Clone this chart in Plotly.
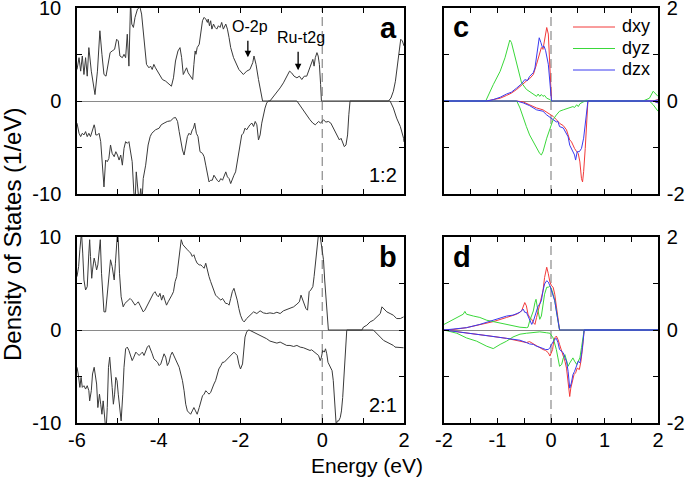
import plotly.graph_objects as go

# ---------------- data ----------------
# Panel a (1:2), total DOS, spin up / spin down
a_up_E = [-6.00,-5.95,-5.91,-5.87,-5.83,-5.79,-5.75,-5.71,-5.65,-5.60,-5.56,-5.50,-5.44,-5.39,-5.34,-5.29,-5.24,-5.19,-5.14,-5.08,
          -5.03,-4.99,-4.95,-4.89,-4.85,-4.81,-4.77,-4.73,-4.69,-4.66,-4.62,-4.58,-4.52,-4.46,-4.42,-4.38,-4.34,-4.30,-4.24,-4.20,
          -4.16,-4.12,-4.08,-4.03,-3.98,-3.91,-3.83,-3.75,-3.69,-3.64,-3.59,-3.53,-3.48,-3.44,-3.40,-3.36,-3.32,-3.28,-3.22,-3.17,
          -3.14,-3.11,-3.09,-3.06,-3.01,-2.97,-2.93,-2.89,-2.85,-2.81,-2.79,-2.76,-2.73,-2.70,-2.66,-2.62,-2.58,-2.54,-2.50,-2.46,
          -2.42,-2.36,-2.32,-2.28,-2.24,-2.17,-2.09,-2.04,-1.93,-1.85,-1.77,-1.70,-1.67,-1.62,-1.56,-1.50,-1.46,-1.28,-1.19,-1.11,
          -1.03,-0.95,-0.87,-0.80,-0.75,-0.69,-0.62,-0.56,-0.50,-0.44,-0.38,-0.31,-0.27,-0.23,-0.20,-0.17,-0.13,-0.10,-0.07,-0.05,
          -0.04,-0.02,1.62,1.68,1.74,1.79,1.84,1.88,1.92,1.96,2.00]
a_up = [3.39,4.66,3.21,4.84,2.85,4.66,2.67,5.74,3.21,1.77,0.69,3.21,7.55,5.02,2.85,2.67,3.94,5.20,5.38,5.56,
        6.64,6.46,4.84,4.66,5.02,4.66,7.18,3.75,10.6,8.27,7.91,8.99,9.89,10.1,9.35,7.55,5.02,3.94,3.57,3.75,
        3.39,3.94,3.57,3.21,2.85,2.31,2.13,1.77,1.59,2.49,4.30,5.38,5.74,4.66,2.85,3.21,3.57,3.03,2.67,2.31,
        3.94,5.38,5.02,5.74,6.10,7.18,8.63,8.99,8.81,8.45,8.81,8.09,8.63,7.73,8.27,7.91,7.73,8.09,7.91,8.45,
        7.73,8.27,7.73,6.82,5.74,4.66,3.94,3.39,2.85,3.21,3.39,4.12,4.84,3.94,2.31,1.05,0.00,0.00,0.51,0.87,
        1.41,1.95,2.67,3.21,3.03,2.67,2.49,2.67,2.31,2.67,2.67,3.57,4.12,4.48,3.75,4.66,5.20,4.84,3.94,2.85,
        1.77,0.00,0.00,0.32,1.05,2.13,3.94,5.74,6.64,6.46,5.92]

a_dn_E = [-6.00,-5.95,-5.91,-5.87,-5.83,-5.79,-5.75,-5.71,-5.67,-5.62,-5.58,-5.56,-5.54,-5.50,-5.46,-5.42,-5.38,-5.34,-5.30,-5.26,
          -5.22,-5.18,-5.14,-5.09,-5.05,-5.01,-4.97,-4.93,-4.89,-4.85,-4.81,-4.77,-4.73,-4.69,-4.65,-4.61,-4.58,-4.55,-4.52,-4.48,
          -4.44,-4.41,-4.38,-4.32,-4.26,-4.21,-4.17,-4.13,-4.08,-3.99,-3.94,-3.87,-3.79,-3.71,-3.64,-3.59,-3.54,-3.50,-3.46,-3.42,
          -3.38,-3.34,-3.30,-3.26,-3.22,-3.18,-3.15,-3.12,-3.08,-3.04,-2.99,-2.93,-2.89,-2.85,-2.81,-2.77,-2.73,-2.69,-2.65,-2.61,
          -2.57,-2.53,-2.48,-2.44,-2.40,-2.36,-2.32,-2.28,-2.24,-2.20,-2.16,-2.12,-2.08,-2.04,-2.00,-1.97,-1.93,-1.89,-1.85,-1.81,
          -1.77,-1.72,-1.68,-1.64,-1.60,-1.56,-1.52,-1.48,-1.44,-1.40,-1.36,-1.32,-0.62,-0.56,-0.46,-0.38,-0.30,-0.23,-0.17,-0.13,
          -0.09,-0.04,0.03,0.09,0.15,0.21,0.27,0.34,0.39,0.42,0.46,0.50,0.54,0.58,0.62,0.65,0.68,1.66,1.74,1.82,1.91,1.99,2.00]
a_dn = [-2.38,-3.47,-3.83,-3.47,-3.65,-3.29,-3.83,-3.47,-3.83,-3.10,-2.56,-2.92,-3.65,-3.65,-3.47,-4.37,-6.71,-9.24,-6.35,-6.53,
        -6.17,-4.73,-5.63,-5.99,-5.45,-5.81,-6.35,-5.81,-6.90,-5.09,-4.37,-4.55,-4.37,-5.27,-6.53,-9.78,-11.0,-7.62,-9.78,-11.0,
        -9.42,-10.9,-8.34,-6.90,-4.73,-3.83,-3.47,-3.29,-3.10,-2.92,-2.56,-2.38,-2.20,-2.13,-1.84,-1.77,-2.20,-3.29,-4.37,-5.27,
        -5.81,-4.91,-3.83,-3.47,-3.65,-3.10,-2.92,-2.38,-3.47,-3.83,-5.45,-5.63,-5.99,-6.90,-7.98,-8.70,-8.52,-8.52,-7.98,-8.34,
        -8.52,-8.70,-8.34,-8.52,-7.98,-7.62,-8.16,-8.34,-8.88,-8.34,-7.98,-7.62,-6.53,-5.45,-4.73,-3.65,-3.47,-2.92,-3.10,-2.74,
        -2.56,-2.38,-2.74,-2.20,-2.56,-4.19,-3.65,-2.38,-1.48,-0.76,-0.22,0.00,0.00,-0.40,-0.94,-1.48,-2.02,-2.38,-2.56,-2.38,
        -2.20,-2.38,-2.02,-2.27,-2.20,-2.38,-2.92,-3.47,-3.83,-4.19,-4.01,-4.37,-4.91,-4.73,-3.65,-1.48,0.00,0.00,-0.76,-1.84,-2.74,-4.01,-4.40]

# Panel b (2:1)
b_up_E = [-6.00,-5.96,-5.93,-5.89,-5.86,-5.83,-5.79,-5.75,-5.71,-5.69,-5.67,-5.64,-5.62,-5.58,-5.55,-5.52,-5.49,-5.45,-5.43,-5.40,
          -5.37,-5.34,-5.30,-5.26,-5.22,-5.18,-5.14,-5.09,-5.06,-5.04,-5.01,-4.99,-4.96,-4.92,-4.87,-4.83,-4.78,-4.74,-4.70,-4.66,
          -4.62,-4.58,-4.54,-4.50,-4.46,-4.42,-4.38,-4.34,-4.30,-4.24,-4.18,-4.13,-4.09,-4.05,-4.01,-3.97,-3.93,-3.89,-3.85,-3.81,
          -3.77,-3.72,-3.68,-3.64,-3.60,-3.56,-3.52,-3.48,-3.45,-3.41,-3.38,-3.34,-3.30,-3.26,-3.22,-3.18,-3.14,-3.10,-3.06,-3.01,
          -2.97,-2.93,-2.89,-2.85,-2.81,-2.77,-2.73,-2.69,-2.65,-2.61,-2.57,-2.53,-2.48,-2.44,-2.40,-2.36,-2.32,-2.28,-2.24,-2.20,
          -2.16,-2.12,-2.08,-2.04,-2.00,-1.95,-1.91,-1.85,-1.77,-1.68,-1.60,-1.52,-1.44,-1.36,-1.28,-1.19,-1.11,-1.03,-0.95,-0.87,
          -0.79,-0.70,-0.62,-0.56,-0.52,-0.48,-0.44,-0.40,-0.36,-0.32,-0.28,-0.23,-0.20,-0.17,-0.13,-0.11,-0.08,-0.05,-0.01,0.03,
          0.06,0.09,0.13,0.15,0.97,1.01,1.09,1.17,1.25,1.33,1.42,1.46,1.50,1.58,1.66,1.74,1.82,1.91,1.99]
b_up = [5.74,6.82,8.63,10.5,8.27,5.38,4.30,4.66,8.27,9.71,7.91,5.56,6.46,7.73,7.18,6.46,7.00,8.63,9.71,6.10,
        3.21,1.95,1.95,3.94,6.10,7.55,6.82,5.38,7.18,9.35,10.5,9.71,6.10,3.57,2.49,2.85,3.03,3.21,3.39,3.21,
        2.85,2.67,2.85,3.03,2.67,2.31,1.95,2.13,2.49,2.85,3.39,3.94,4.12,3.75,3.57,3.94,3.21,3.75,3.21,2.67,
        3.03,3.39,3.75,4.12,5.20,5.74,7.18,8.81,9.71,9.17,8.99,8.81,8.63,8.45,8.27,7.91,8.09,7.55,7.18,7.00,
        7.00,6.82,6.64,7.18,6.28,5.74,5.20,4.66,4.12,3.75,3.57,3.39,3.21,3.39,3.03,2.85,2.85,2.67,3.39,4.12,
        4.48,3.94,3.21,2.31,1.59,1.05,0.87,1.23,1.59,1.95,1.77,2.06,1.84,1.77,1.84,1.77,1.91,1.77,2.06,2.20,
        2.31,2.49,2.78,3.03,3.75,3.21,2.67,2.31,2.13,4.12,4.30,4.66,5.74,7.18,8.99,10.07,10.8,10.07,8.99,7.55,
        5.38,3.21,1.05,0.00,0.00,0.32,0.51,0.87,1.05,1.41,1.77,2.49,2.31,1.95,1.77,1.59,1.23,1.23,1.41]

b_dn_E = [-6.00,-5.97,-5.93,-5.90,-5.87,-5.83,-5.79,-5.75,-5.71,-5.69,-5.65,-5.62,-5.58,-5.55,-5.52,-5.49,-5.45,-5.42,-5.39,-5.36,
          -5.32,-5.29,-5.26,-5.23,-5.20,-5.18,-5.14,-5.11,-5.08,-5.05,-5.02,-4.99,-4.95,-4.92,-4.88,-4.85,-4.81,-4.77,-4.73,-4.69,
          -4.65,-4.61,-4.56,-4.52,-4.48,-4.44,-4.40,-4.36,-4.32,-4.28,-4.24,-4.20,-4.16,-4.12,-4.08,-4.03,-3.99,-3.95,-3.91,-3.87,
          -3.83,-3.79,-3.75,-3.71,-3.67,-3.63,-3.59,-3.54,-3.50,-3.46,-3.42,-3.38,-3.34,-3.30,-3.26,-3.22,-3.18,-3.14,-3.10,-3.06,
          -3.01,-2.97,-2.93,-2.89,-2.85,-2.81,-2.77,-2.73,-2.69,-2.65,-2.61,-2.57,-2.53,-2.48,-2.44,-2.40,-2.36,-2.32,-2.28,-2.24,
          -2.20,-2.16,-2.12,-2.08,-2.04,-2.00,-1.95,-1.91,-1.89,-1.85,-1.81,-1.77,-1.68,-1.60,-1.52,-1.44,-1.36,-1.28,-1.19,-1.11,
          -1.03,-0.95,-0.87,-0.79,-0.70,-0.62,-0.54,-0.46,-0.38,-0.30,-0.26,-0.22,-0.13,-0.09,-0.05,-0.02,0.01,0.05,0.08,0.11,
          0.14,0.18,0.21,0.24,0.27,0.31,0.34,0.37,0.40,0.44,0.47,0.50,0.53,0.57,0.60,1.25,1.33,1.42,1.50,1.58,
          1.66,1.74,1.78,1.82,1.91,1.99]
b_dn = [-4.01,-4.73,-6.17,-5.09,-6.17,-5.99,-6.35,-5.99,-6.53,-7.62,-6.53,-4.73,-4.01,-4.73,-5.81,-8.34,-6.90,-7.98,-9.06,-7.62,
        -9.78,-11.0,-8.34,-4.01,-2.92,-4.37,-6.17,-7.98,-6.90,-5.09,-5.45,-6.90,-8.34,-9.78,-6.90,-4.01,-2.02,-1.84,-2.20,-2.74,
        -3.29,-2.92,-2.38,-2.56,-2.74,-2.56,-2.38,-2.74,-2.20,-1.84,-1.66,-2.02,-2.56,-3.10,-3.29,-3.47,-3.83,-3.65,-3.10,-2.56,
        -2.92,-3.83,-3.47,-2.74,-2.38,-2.74,-3.10,-3.47,-4.01,-4.73,-5.45,-6.53,-7.98,-8.70,-8.88,-9.06,-8.70,-8.34,-8.70,-9.06,
        -8.34,-7.62,-7.08,-6.90,-6.53,-6.71,-6.90,-6.71,-6.17,-5.81,-5.45,-4.73,-4.19,-3.83,-3.47,-3.47,-3.29,-3.10,-3.00,-2.74,
        -2.56,-2.38,-2.56,-2.74,-3.65,-4.19,-3.65,-2.02,-0.76,-0.22,0.00,-0.04,-0.22,-0.40,-0.58,-0.76,-0.94,-1.19,-1.30,-1.41,
        -1.30,-1.48,-1.66,-1.66,-1.77,-1.66,-1.84,-1.91,-2.02,-2.20,-2.13,-2.27,-2.56,-2.74,-3.29,-2.92,-2.20,-2.38,-2.02,-2.56,
        -3.47,-3.83,-4.01,-4.37,-5.45,-8.34,-10.14,-9.78,-9.78,-9.42,-8.70,-7.26,-4.73,-2.20,0.00,0.00,-0.40,-0.76,-1.12,-1.30,
        -1.48,-1.66,-1.84,-1.84,-1.84,-1.91]

# Panel c (1:2) Ru t2g projected DOS
c_series = ["dxy", "dyz", "dzx"]
c_up_E = {
    "dxy": [-2.00,-1.20,-1.08,-0.95,-0.83,-0.74,-0.64,-0.55,-0.46,-0.40,-0.33,-0.27,-0.21,-0.18,-0.15,-0.12,-0.08,-0.05,-0.02,0.01,1.90,2.00],
    "dyz": [-2.00,-1.22,-1.08,-0.95,-0.86,-0.80,-0.77,-0.74,-0.67,-0.61,-0.55,-0.46,-0.36,-0.30,-0.27,-0.24,-0.21,-0.18,-0.15,-0.12,-0.08,-0.02,0.01,1.72,1.84,1.91,1.96,2.00],
    "dzx": [-2.00,-1.20,-1.08,-0.95,-0.83,-0.74,-0.64,-0.55,-0.49,-0.44,-0.40,-0.33,-0.30,-0.27,-0.24,-0.22,-0.19,-0.16,-0.13,-0.10,-0.05,-0.02,0.01,1.90,2.00],
}
c_up = {
    "dxy": [0,0,0.03,0.06,0.12,0.17,0.25,0.35,0.43,0.48,0.57,0.79,1.00,1.15,1.11,1.36,1.58,1.44,0.79,0,0,0.03],
    "dyz": [0,0,0.35,0.64,0.93,1.18,1.31,1.26,0.93,0.64,0.39,0.25,0.17,0.14,0.10,0.15,0.10,0.14,0.10,0.12,0.06,0.03,0,0,0.06,0.21,0.14,0.10],
    "dzx": [0,0,0.03,0.08,0.15,0.19,0.28,0.37,0.46,0.44,0.53,0.61,0.71,1.00,1.22,1.36,1.26,1.15,1.18,1.08,0.79,0.35,0,0,0.02],
}
c_dn_E = {
    "dxy": [-2.00,-0.64,-0.52,-0.40,-0.27,-0.15,-0.08,-0.02,0.04,0.10,0.16,0.23,0.29,0.32,0.35,0.38,0.41,0.44,0.48,0.51,0.54,0.57,0.59,0.61,0.64,0.66,0.69,1.91,2.00],
    "dyz": [-2.00,-0.64,-0.58,-0.52,-0.46,-0.40,-0.33,-0.27,-0.21,-0.18,-0.15,-0.08,-0.02,0.04,0.10,0.16,0.23,0.29,0.35,0.41,0.44,0.48,0.51,0.54,0.60,0.66,1.84,1.91,2.00],
    "dzx": [-2.00,-0.64,-0.52,-0.40,-0.27,-0.15,-0.08,-0.02,0.04,0.10,0.13,0.16,0.23,0.29,0.32,0.35,0.38,0.41,0.44,0.46,0.49,0.53,0.57,0.61,0.66,0.69,1.91,2.00],
}
c_dn = {
    "dxy": [0,0,-0.02,-0.08,-0.15,-0.19,-0.24,-0.30,-0.33,-0.40,-0.48,-0.53,-0.62,-0.73,-0.84,-0.87,-0.95,-1.02,-1.09,-1.13,-1.31,-1.67,-1.74,-1.52,-1.02,-0.51,0,0,-0.04],
    "dyz": [0,0,-0.15,-0.37,-0.55,-0.73,-0.87,-1.02,-1.13,-1.16,-1.09,-0.80,-0.58,-0.40,-0.30,-0.22,-0.19,-0.17,-0.15,-0.12,-0.14,-0.08,-0.12,-0.06,-0.02,0,0,-0.08,-0.22],
    "dzx": [0,0,-0.04,-0.10,-0.19,-0.22,-0.30,-0.35,-0.40,-0.45,-0.44,-0.55,-0.58,-0.69,-0.77,-0.95,-1.02,-1.09,-1.16,-1.27,-1.09,-1.09,-1.02,-0.80,-0.30,0,0,-0.04],
}

# Panel d (2:1)
d_up_E = {
    "dxy": [-2.00,-1.83,-1.58,-1.33,-1.08,-0.83,-0.64,-0.55,-0.52,-0.49,-0.46,-0.43,-0.40,-0.36,-0.33,-0.30,-0.27,-0.24,-0.21,-0.18,-0.15,-0.12,-0.08,-0.05,-0.02,0.01,0.04,0.07,0.10,0.13,0.16,2.00],
    "dyz": [-2.00,-1.89,-1.76,-1.64,-1.61,-1.58,-1.45,-1.33,-1.20,-1.08,-0.95,-0.83,-0.71,-0.58,-0.46,-0.43,-0.40,-0.36,-0.33,-0.30,-0.28,-0.26,-0.23,-0.21,-0.18,-0.15,-0.12,-0.08,-0.05,-0.02,0.01,0.04,0.07,0.10,0.13,0.16,2.00],
    "dzx": [-2.00,-1.58,-1.33,-1.08,-0.89,-0.83,-0.71,-0.58,-0.52,-0.49,-0.46,-0.43,-0.40,-0.36,-0.33,-0.30,-0.27,-0.24,-0.21,-0.18,-0.15,-0.12,-0.08,-0.05,-0.02,0.01,0.04,0.07,0.10,0.13,0.16,2.00],
}
d_up = {
    "dxy": [0,0.01,0.05,0.11,0.18,0.27,0.34,0.41,0.52,0.59,0.52,0.34,0.27,0.23,0.16,0.12,0.27,0.41,0.52,0.70,0.84,1.13,1.35,1.21,1.03,0.95,0.92,0.77,0.48,0.19,0,0],
    "dyz": [0.12,0.19,0.27,0.34,0.40,0.34,0.30,0.27,0.21,0.18,0.14,0.11,0.09,0.06,0.05,0.06,0.19,0.30,0.41,0.59,0.66,0.52,0.34,0.23,0.30,0.56,0.77,0.92,0.92,0.95,0.88,0.77,0.63,0.41,0.19,0,0],
    "dzx": [0,0.05,0.12,0.21,0.28,0.30,0.32,0.38,0.45,0.38,0.38,0.30,0.19,0.12,0.19,0.30,0.41,0.52,0.56,0.63,0.84,0.99,1.06,1.03,0.95,0.84,0.74,0.63,0.41,0.16,0,0],
}
d_dn_E = {
    "dxy": [-2.00,-1.70,-1.45,-1.14,-0.83,-0.58,-0.46,-0.40,-0.33,-0.27,-0.21,-0.15,-0.10,-0.05,-0.02,0.00,0.03,0.05,0.07,0.10,0.13,0.16,0.20,0.23,0.26,0.29,0.32,0.35,0.37,0.40,0.43,0.46,0.49,0.53,0.56,0.59,0.62,2.00],
    "dyz": [-2.00,-1.76,-1.58,-1.39,-1.20,-1.08,-0.95,-0.83,-0.71,-0.58,-0.46,-0.33,-0.21,-0.08,-0.02,0.04,0.07,0.10,0.13,0.16,0.20,0.23,0.26,0.29,0.32,0.35,0.38,0.41,0.44,0.48,0.51,0.54,0.57,0.61,0.62,2.00],
    "dzx": [-2.00,-1.70,-1.45,-1.14,-0.83,-0.58,-0.46,-0.40,-0.33,-0.27,-0.21,-0.15,-0.10,-0.05,-0.02,0.01,0.04,0.07,0.10,0.13,0.16,0.20,0.23,0.26,0.29,0.32,0.35,0.38,0.41,0.44,0.48,0.51,0.54,0.57,0.60,0.62,2.00],
}
d_dn = {
    "dxy": [0,-0.04,-0.08,-0.13,-0.18,-0.24,-0.27,-0.25,-0.30,-0.35,-0.38,-0.42,-0.44,-0.49,-0.56,-0.49,-0.42,-0.24,-0.17,-0.13,-0.20,-0.31,-0.45,-0.60,-0.67,-0.82,-1.10,-1.43,-1.25,-1.10,-0.96,-0.92,-0.82,-0.85,-0.67,-0.38,0,0],
    "dyz": [0,-0.07,-0.17,-0.24,-0.35,-0.40,-0.31,-0.24,-0.15,-0.09,-0.07,-0.06,-0.04,-0.06,-0.07,-0.17,-0.27,-0.42,-0.60,-0.78,-0.74,-0.60,-0.53,-0.67,-0.78,-0.71,-0.64,-0.60,-0.67,-0.74,-0.67,-0.60,-0.38,-0.09,0,0],
    "dzx": [0,-0.04,-0.08,-0.13,-0.18,-0.22,-0.27,-0.30,-0.31,-0.35,-0.37,-0.40,-0.42,-0.42,-0.38,-0.31,-0.25,-0.20,-0.18,-0.27,-0.42,-0.45,-0.49,-0.60,-0.67,-0.89,-1.25,-1.14,-0.96,-0.89,-0.78,-0.67,-0.71,-0.53,-0.24,0,0],
}

colors = {"dxy": "#f23a3a", "dyz": "#3ad83a", "dzx": "#3a3af0"}

# ---------------- figure ----------------
W, H = 685, 484
FONT = "Liberation Sans, Arial, sans-serif"
fig = go.Figure()

tot_line = dict(color="#3a3a3a", width=1)
fig.add_trace(go.Scatter(x=a_up_E, y=a_up, mode="lines", line=tot_line, xaxis="x", yaxis="y", showlegend=False))
fig.add_trace(go.Scatter(x=a_dn_E, y=a_dn, mode="lines", line=tot_line, xaxis="x", yaxis="y", showlegend=False))
fig.add_trace(go.Scatter(x=b_up_E, y=b_up, mode="lines", line=tot_line, xaxis="x2", yaxis="y2", showlegend=False))
fig.add_trace(go.Scatter(x=b_dn_E, y=b_dn, mode="lines", line=tot_line, xaxis="x2", yaxis="y2", showlegend=False))

for s in c_series:
    fig.add_trace(go.Scatter(x=c_up_E[s], y=c_up[s], mode="lines", name=s, showlegend=False,
                             line=dict(color=colors[s], width=1), xaxis="x3", yaxis="y3"))
    fig.add_trace(go.Scatter(x=c_dn_E[s], y=c_dn[s], mode="lines", name=s, showlegend=False,
                             line=dict(color=colors[s], width=1), xaxis="x3", yaxis="y3"))
for s in c_series:
    fig.add_trace(go.Scatter(x=d_up_E[s], y=d_up[s], mode="lines", name=s, showlegend=False,
                             line=dict(color=colors[s], width=1), xaxis="x4", yaxis="y4"))
    fig.add_trace(go.Scatter(x=d_dn_E[s], y=d_dn[s], mode="lines", name=s, showlegend=False,
                             line=dict(color=colors[s], width=1), xaxis="x4", yaxis="y4"))

left_dom = [77 / W, 404 / W]
right_dom = [444 / W, 658 / W]
top_dom = [1 - 194 / H, 1 - 8 / H]
bot_dom = [1 - 423 / H, 1 - 237 / H]

axis_common = dict(showline=True, mirror="ticks", linecolor="black", linewidth=1.5,
                   ticks="inside", ticklen=5, tickwidth=1, tickcolor="black", automargin=False,
                   ticklabeloverflow="allow", showgrid=False,
                   tickfont=dict(family=FONT, size=20, color="black"))

big_x_vals = [-6, -5, -4, -3, -2, -1, 0, 1, 2]
big_x_text = ["-6", "", "-4", "", "-2", "", "0", "", "2"]
small_x_vals = [-2, -1.5, -1, -0.5, 0, 0.5, 1, 1.5, 2]
small_x_text = ["-2", "", "-1", "", "0", "", "1", "", "2"]

fig.update_layout(
    width=W, height=H, margin=dict(l=0, r=0, t=0, b=0, autoexpand=False),
    paper_bgcolor="white", plot_bgcolor="white", showlegend=False,
    font=dict(family=FONT, color="black"),
    xaxis=dict(domain=left_dom, range=[-6, 2], anchor="y", tickvals=big_x_vals,
               ticktext=[""] * 9, zeroline=False, **axis_common),
    xaxis2=dict(domain=left_dom, range=[-6, 2], anchor="y2", tickvals=big_x_vals,
                ticktext=big_x_text, zeroline=False, ticklabelstandoff=-2, **axis_common),
    xaxis3=dict(domain=right_dom, range=[-2, 2], anchor="y3", tickvals=small_x_vals,
                ticktext=[""] * 9, zeroline=False, **axis_common),
    xaxis4=dict(domain=right_dom, range=[-2, 2], anchor="y4", tickvals=small_x_vals,
                ticktext=small_x_text, zeroline=False, ticklabelstandoff=-2, **axis_common),
    yaxis=dict(domain=top_dom, range=[-10, 10], anchor="x", tickvals=[-10, -5, 0, 5, 10],
               ticktext=["-10", "", "0", "", "10"], zeroline=True, zerolinecolor="#8a8a8a",
               zerolinewidth=1, ticklabelstandoff=10, **axis_common),
    yaxis2=dict(domain=bot_dom, range=[-10, 10], anchor="x2", tickvals=[-10, -5, 0, 5, 10],
                ticktext=["-10", "", "0", "", "10"], zeroline=True, zerolinecolor="#8a8a8a",
                zerolinewidth=1, ticklabelstandoff=10, **axis_common),
    yaxis3=dict(domain=top_dom, range=[-2, 2], anchor="x3", side="right", tickvals=[-2, -1, 0, 1, 2],
                ticktext=["-2", "", "0", "", "2"], zeroline=True, zerolinecolor="#8a8a8a",
                zerolinewidth=1, ticklabelstandoff=3, **axis_common),
    yaxis4=dict(domain=bot_dom, range=[-2, 2], anchor="x4", side="right", tickvals=[-2, -1, 0, 1, 2],
                ticktext=["-2", "", "0", "", "2"], zeroline=True, zerolinecolor="#8a8a8a",
                zerolinewidth=1, ticklabelstandoff=3, **axis_common),
)

# vertical dashed Fermi-level lines
for xr, yr in [("x", "y"), ("x2", "y2"), ("x3", "y3"), ("x4", "y4")]:
    fig.add_shape(type="line", xref=xr, yref=yr + " domain", x0=0, x1=0, y0=0, y1=1,
                  line=dict(color="#8a8a8a", width=1.2, dash="9px,5px"), layer="below")


def P(px, py):
    return px / W, 1 - py / H


def label(text, px, py, size, xanchor="center", bold=False, angle=0):
    x, y = P(px, py)
    fig.add_annotation(x=x, y=y, xref="paper", yref="paper", text=("<b>%s</b>" % text) if bold else text,
                       showarrow=False, xanchor=xanchor, yanchor="middle", textangle=angle,
                       font=dict(family=FONT, size=size, color="black"))


# legend for the orbital-projected panels (sample line + label)
for i, s in enumerate(c_series):
    ly = 27 + 21.5 * i
    x0, y0 = P(573, ly)
    x1, _ = P(615, ly)
    fig.add_shape(type="line", xref="paper", yref="paper", x0=x0, x1=x1, y0=y0, y1=y0,
                  line=dict(color=colors[s], width=1))
    label(s, 620, ly - 1, 18, "left")

label("a", 399, 28, 29, "right", bold=True)
label("b", 399, 257, 29, "right", bold=True)
label("c", 451, 27, 29, "left", bold=True)
label("d", 451, 257, 29, "left", bold=True)
label("1:2", 399, 175, 20, "right")
label("2:1", 399, 405, 20, "right")
label("O-2p", 230, 27, 16, "left")
label("Ru-t2g", 275, 37, 16, "left")
label("Energy (eV)", 367, 465, 21)
label("Density of States (1/eV)", 12, 235, 24, angle=-90)

# arrows pointing to features
fig.add_annotation(x=-1.82, y=4.7, xref="x", yref="y", text="", showarrow=True, ax=0, ay=-18,
                   arrowhead=2, arrowsize=1, arrowwidth=1.3, arrowcolor="black")
fig.add_annotation(x=-0.59, y=3.3, xref="x", yref="y", text="", showarrow=True, ax=0, ay=-20,
                   arrowhead=2, arrowsize=1, arrowwidth=1.3, arrowcolor="black")

# remove the browser's default page margin so the figure sits at the window origin
fig.write_html("out.html", config={"displayModeBar": False},
               post_script="document.body.style.margin='0';")
